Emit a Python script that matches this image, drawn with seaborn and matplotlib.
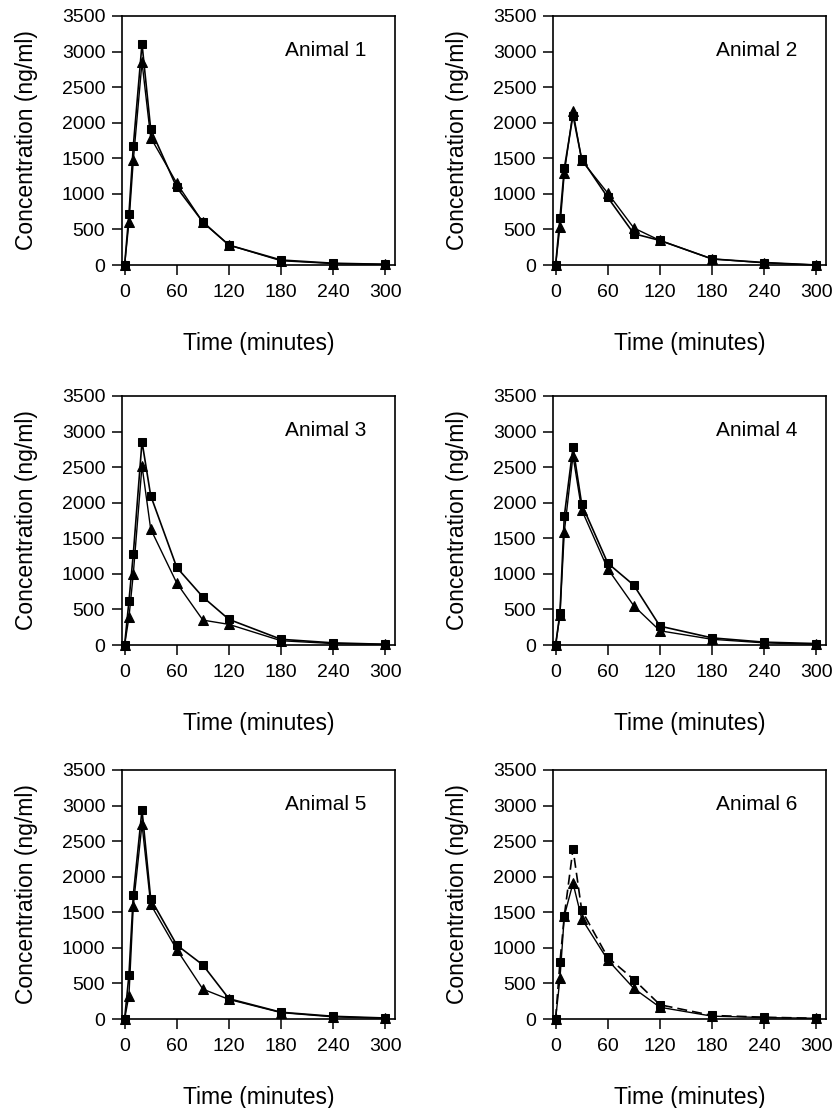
import matplotlib
matplotlib.use("Agg")
import matplotlib.pyplot as plt
import pandas as pd
import seaborn as sns

# sampling times (minutes)
times = [0, 5, 10, 20, 30, 60, 90, 120, 180, 240, 300]

# concentrations (ng/ml), squares and triangles per animal
a1_square = [0, 720, 1670, 3110, 1910, 1090, 605, 280, 70, 25, 10]
a1_triangle = [0, 600, 1470, 2850, 1790, 1150, 600, 280, 60, 20, 10]
a2_square = [0, 660, 1360, 2100, 1490, 950, 440, 345, 85, 35, 0]
a2_triangle = [0, 540, 1290, 2160, 1470, 1010, 520, 345, 85, 30, 0]
a3_square = [0, 620, 1280, 2860, 2100, 1090, 675, 360, 80, 30, 10]
a3_triangle = [0, 390, 1000, 2520, 1630, 870, 350, 290, 60, 20, 10]
a4_square = [0, 450, 1810, 2780, 1980, 1150, 840, 265, 100, 40, 20]
a4_triangle = [0, 420, 1590, 2660, 1900, 1070, 550, 200, 80, 30, 10]
a5_square = [0, 620, 1740, 2940, 1690, 1040, 760, 285, 95, 38, 14]
a5_triangle = [0, 330, 1590, 2740, 1610, 975, 420, 275, 90, 30, 10]
a6_square = [0, 800, 1450, 2390, 1530, 865, 555, 200, 50, 25, 10]
a6_triangle = [0, 570, 1450, 1910, 1410, 830, 430, 165, 40, 20, 10]

animals = ["Animal 1", "Animal 2", "Animal 3", "Animal 4", "Animal 5", "Animal 6"]
squares = [a1_square, a2_square, a3_square, a4_square, a5_square, a6_square]
triangles = [a1_triangle, a2_triangle, a3_triangle, a4_triangle, a5_triangle, a6_triangle]

sns.set_style("ticks")
plt.rcParams["font.family"] = ["Liberation Sans", "DejaVu Sans"]
for key in ["text.color", "axes.labelcolor", "xtick.color", "ytick.color"]:
    plt.rcParams[key] = "black"

fig = plt.figure(figsize=(8.36, 11.08), dpi=100)

W, H = 836, 1108
col_left = [122, 553]
row_bottom = [265, 645, 1019]
ax_w, ax_h = 273, 249

for i, name in enumerate(animals):
    r, c = divmod(i, 2)
    ax = fig.add_axes([col_left[c] / W, 1 - row_bottom[r] / H, ax_w / W, ax_h / H])

    df = pd.DataFrame({"time": times, "sq": squares[i], "tr": triangles[i]})
    sq_style = (0, (6, 3)) if i == 5 else "-"
    sns.lineplot(data=df, x="time", y="tr", ax=ax, color="black", lw=1.0,
                 marker="^", markersize=6.5, markeredgecolor="black", clip_on=False)
    sns.lineplot(data=df, x="time", y="sq", ax=ax, color="black", lw=1.2, linestyle=sq_style,
                 marker="s", markersize=6, markeredgecolor="black", clip_on=False)

    ax.set_xlim(-3, 311)
    ax.set_ylim(0, 3500)
    ax.set_xticks([0, 60, 120, 180, 240, 300])
    ax.set_yticks(range(0, 3501, 500))
    ax.tick_params(labelsize=14, length=7, width=1.1, color="black")
    ax.tick_params(axis="x", pad=7)
    ax.tick_params(axis="y", pad=5)
    for sp in ax.spines.values():
        sp.set_linewidth(1.2)
        sp.set_color("black")
    ax.set_xlabel("Time (minutes)", fontsize=16.5, labelpad=22)
    ax.set_ylabel("Concentration (ng/ml)", fontsize=16.5, labelpad=17)
    ax.text(0.894, 0.86, name, transform=ax.transAxes, ha="right", va="center", fontsize=15)

fig.savefig("out.png", dpi=100)
